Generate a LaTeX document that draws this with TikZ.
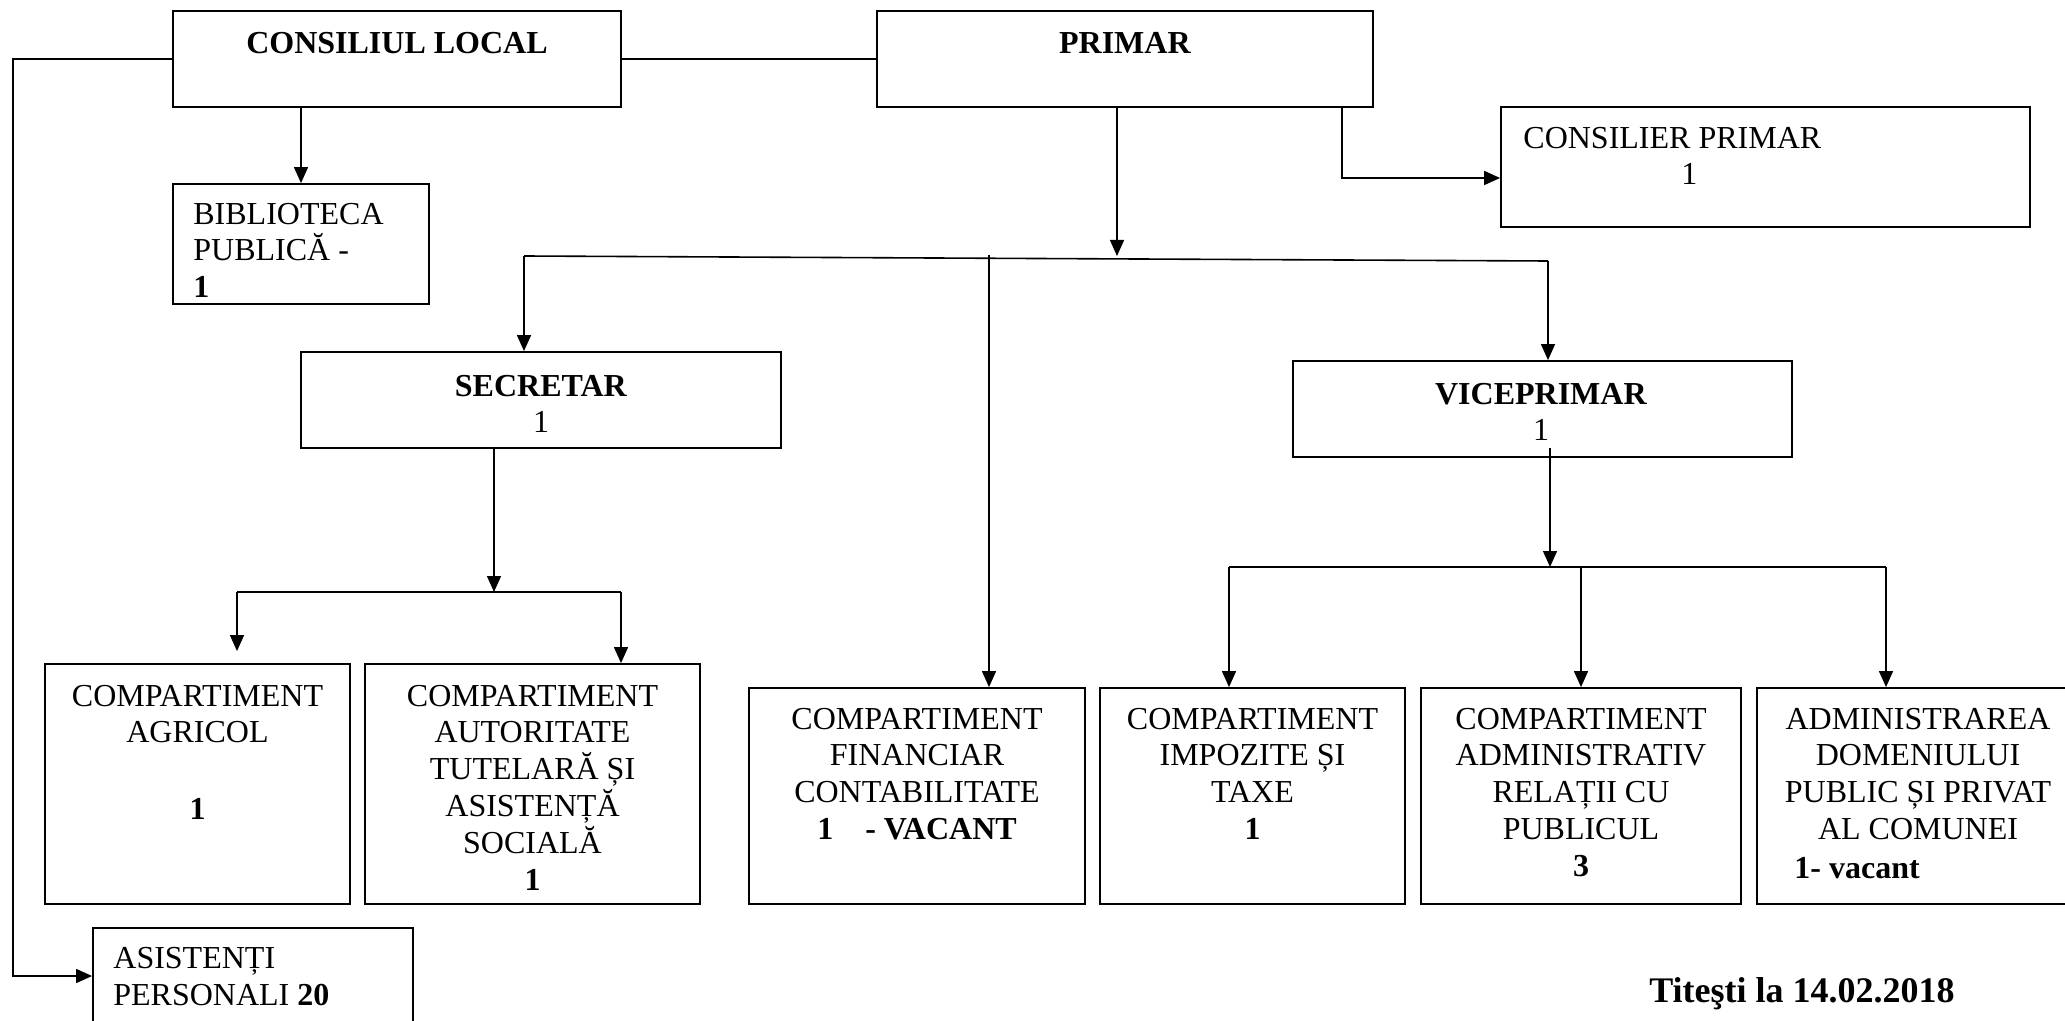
\documentclass[tikz,border=0pt]{standalone}
\usepackage{fontspec}
\setmainfont{Liberation Serif}
\usetikzlibrary{arrows.meta,fit,calc}

\begin{document}
\begin{tikzpicture}[x=0.5pt,y=-0.5pt,
  box/.style={draw,line width=0.9pt,inner sep=0pt},
  conn/.style={line width=0.8pt},
  arr/.style={line width=0.7pt,-{Triangle[length=8pt,width=7pt]}},
  txt/.style={inner sep=0pt,anchor=north,align=center,font=\fontsize{16}{18.4}\selectfont},
  ltxt/.style={inner sep=0pt,anchor=north west,align=left,font=\fontsize{16}{18.4}\selectfont}]
\useasboundingbox (0,0) rectangle (2065,1021);
\clip (0,0) rectangle (2065,1021);
\node[box,fit={(173,11) (621,107)}] (consiliu) {};
\node[box,fit={(877,11) (1373,107)}] (primar) {};
\node[box,fit={(173,184) (429,304)}] (biblioteca) {};
\node[box,fit={(1501,107) (2030,227)}] (consilier) {};
\node[box,fit={(301,352) (781,448)}] (secretar) {};
\node[box,fit={(1293,361) (1792,457)}] (viceprimar) {};
\node[box,fit={(45,664) (350,904)}] (agricol) {};
\node[box,fit={(365,664) (700,904)}] (autoritate) {};
\node[box,fit={(749,688) (1085,904)}] (financiar) {};
\node[box,fit={(1100,688) (1405,904)}] (impozite) {};
\node[box,fit={(1421,688) (1741,904)}] (administrativ) {};
\node[box,fit={(1757,688) (2080,904)}] (administrarea) {};
\node[box,fit={(93,928) (413,1060)}] (asistenti) {};
\node[txt] (consiliuT) at (397,31.5) {\textbf{CONSILIUL LOCAL}};
\node[txt] (primarT) at (1125,31.5) {\textbf{PRIMAR}};
\node[ltxt] (bibliotecaT) at (193,202.5) {BIBLIOTECA\\PUBLICĂ -\\\textbf{1}};
\node[ltxt] (consilierT) at (1523,126.5) {CONSILIER PRIMAR\\\hspace*{79pt}1};
\node[txt] (secretarT) at (541,374.5) {\textbf{SECRETAR}\\1};
\node[txt] (viceprimarT) at (1541,382.5) {\textbf{VICEPRIMAR}\\1};
\node[txt] (agricolT) at (197.5,684.5) {COMPARTIMENT\\AGRICOL\\[20pt]\textbf{1}};
\node[txt] (autoritateT) at (532.5,684.5) {COMPARTIMENT\\AUTORITATE\\TUTELARĂ ȘI\\ASISTENȚĂ\\SOCIALĂ\\\textbf{1}};
\node[txt] (financiarT) at (917,707.5) {COMPARTIMENT\\FINANCIAR\\CONTABILITATE\\\textbf{1\hspace{1em}- VACANT}};
\node[txt] (impoziteT) at (1252.5,707.5) {COMPARTIMENT\\IMPOZITE ȘI\\TAXE\\\textbf{1}};
\node[txt] (administrativT) at (1581,707.5) {COMPARTIMENT\\ADMINISTRATIV\\RELAȚII CU\\PUBLICUL\\\textbf{3}};
\node[txt] (administrareaT) at (1918,707.5) {ADMINISTRAREA\\DOMENIULUI\\PUBLIC ȘI PRIVAT\\AL COMUNEI};
\node[ltxt] (vacantT) at (1794,856.5) {\textbf{1- vacant}};
\node[ltxt] (asistentiT) at (113,947) {ASISTENȚI\\PERSONALI \textbf{20}};
\node[inner sep=0pt,anchor=base,font=\fontsize{18}{20}\selectfont\bfseries] (data) at (1802,1002) {Titeşti la 14.02.2018};
\coordinate (stanga) at (13,976);
\coordinate (pj) at (1117,256);
\coordinate (cj) at (1342,178);
\coordinate (bl) at (524,256);
\coordinate (br) at (1548,261);
\coordinate (fj) at (989,255);
\coordinate (sj) at (494,592);
\coordinate (sl) at (237,592);
\coordinate (sr) at (621,592);
\coordinate (vj) at (1550,567);
\coordinate (vl) at (1229,567);
\coordinate (vm) at (1581,567);
\coordinate (vr) at (1886,567);
\draw[conn] (consiliu.east) -- (primar.west);
\draw[arr] (consiliu.west) -| (stanga) -- (stanga -| asistenti.west);
\draw[arr] (biblioteca.north |- consiliu.south) -- (biblioteca.north);
\draw[arr] (pj |- primar.south) -- (pj);
\draw[arr] (cj |- primar.south) -- (cj) -- (cj -| consilier.west);
\draw[conn] (bl) -- (br);
\draw[arr] (bl) -- (bl |- secretar.north);
\draw[arr] (br) -- (br |- viceprimar.north);
\draw[arr] (fj) -- (fj |- financiar.north);
\draw[arr] (sj |- secretar.south) -- (sj);
\draw[conn] (sl) -- (sr);
\draw[arr,shorten >=6pt] (sl) -- (sl |- agricol.north);
\draw[arr] (sr) -- (sr |- autoritate.north);
\draw[arr] ($(vj |- viceprimar.south)+(0,-10)$) -- (vj);
\draw[conn] (vl) -- (vr);
\foreach \c/\b in {vl/impozite,vm/administrativ,vr/administrarea}
  \draw[arr] (\c) -- (\c |- \b.north);
\end{tikzpicture}
\end{document}
